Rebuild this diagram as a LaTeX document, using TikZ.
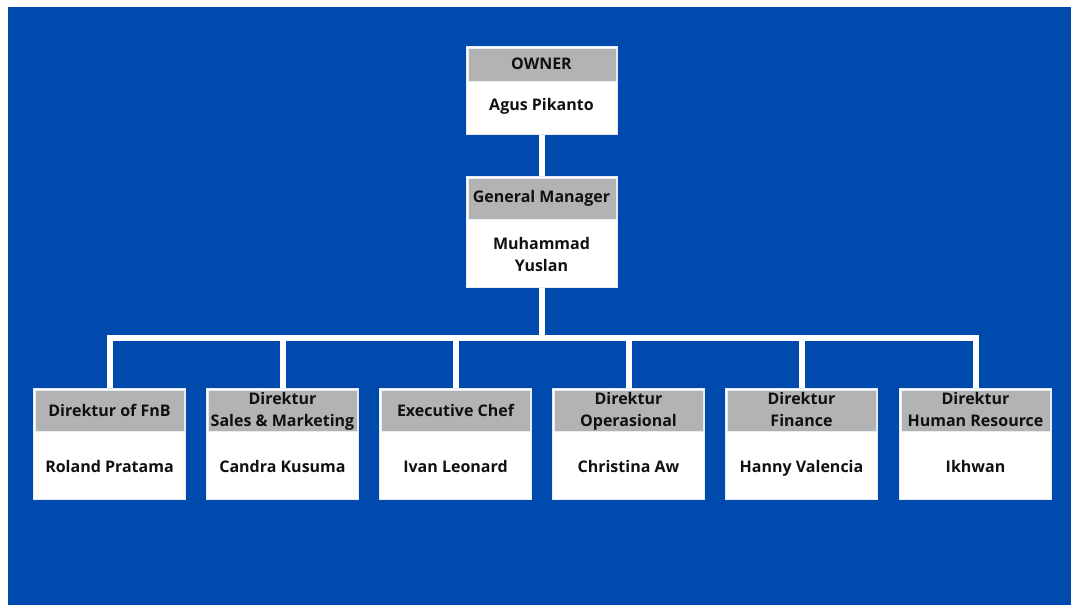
\documentclass[tikz,border=0pt]{standalone}
\usepackage{fontspec}
\setmainfont{Open Sans}
\usetikzlibrary{backgrounds}
\definecolor{bgblue}{HTML}{004AAD}
\definecolor{hdrgrey}{HTML}{B3B3B3}
\definecolor{edge}{HTML}{E6ECF5}
\definecolor{txt}{HTML}{111111}
\tikzset{
  box/.style={draw=edge, line width=1pt, fill=white, rectangle, inner sep=0pt, anchor=north west},
  hdr/.style={fill=hdrgrey, draw=edge, line width=1pt, rectangle, inner sep=0pt, anchor=north},
  lbl/.style={text=txt, font=\fontsize{16}{21.5}\selectfont\bfseries, inner sep=0pt, anchor=base},
  conn/.style={draw=white, line width=6pt, line cap=rect}
}
\begin{document}
\begin{tikzpicture}[x=1pt,y=-1pt]
\useasboundingbox (0,0) rectangle (1071,605);

\coordinate (bus) at (542,338);

% owner
\node[box, minimum width=151pt, minimum height=88pt] (own) at (466,46) {};
\node[hdr, minimum width=148pt, minimum height=33pt] (ownh) at ([yshift=-1.5pt]own.north) {};
\node[lbl] (ownt) at (541.5,69) {OWNER};
\node[lbl] (ownn) at (541.5,110.7) {Agus Pikanto};

% general manager
\node[box, minimum width=151pt, minimum height=111pt] (gm) at (466,176) {};
\node[hdr, minimum width=148pt, minimum height=41pt] (gmh) at ([yshift=-1.5pt]gm.north) {};
\node[lbl] (gmt) at (541.5,202) {General Manager};
\node[lbl] (gmn1) at (541.5,249) {Muhammad};
\node[lbl] (gmn2) at (541.5,271) {Yuslan};

% directors
\foreach \n/\x/\a/\b/\p in {
  d1/33//{Direktur of FnB}/{Roland Pratama},
  d2/206/{Direktur}/{Sales \& Marketing}/{Candra Kusuma},
  d3/379//{Executive Chef}/{Ivan Leonard},
  d4/552/{Direktur}/{Operasional}/{Christina Aw},
  d5/725/{Direktur}/{Finance}/{Hanny Valencia},
  d6/899/{Direktur}/{Human Resource}/{Ikhwan}}{
  \node[box, minimum width=152pt, minimum height=111pt] (\n) at (\x,388) {};
  \node[hdr, minimum width=149pt, minimum height=41pt] (\n h) at ([yshift=-1.5pt]\n.north) {};
  \node[lbl] (\n n) at ([yshift=-84.3pt]\n.north) {\p};
}
\node[lbl] (d1t) at ([yshift=-28.7pt]d1.north) {Direktur of FnB};
\node[lbl] (d3t) at ([yshift=-28.7pt]d3.north) {Executive Chef};
\foreach \n/\b in {d2/{Sales \& Marketing},d4/{Operasional},d5/{Finance},d6/{Human Resource}}{
  \node[lbl] (\n t1) at ([yshift=-16.7pt]\n.north) {Direktur};
  \node[lbl] (\n t2) at ([yshift=-38.3pt]\n.north) {\b};
}

\begin{pgfonlayer}{background}
\fill[bgblue] (8,7) rectangle (1071,605);
\draw[conn] (own.south) -- (gm.north);
\draw[conn] (gm.south) -- (gm.south |- bus);
\draw[conn] (d1.north |- bus) -- (d6.north |- bus);
\foreach \n in {d1,d2,d3,d4,d5,d6}{
  \draw[conn] (\n.north |- bus) -- (\n.north);
}
\end{pgfonlayer}
\end{tikzpicture}
\end{document}
